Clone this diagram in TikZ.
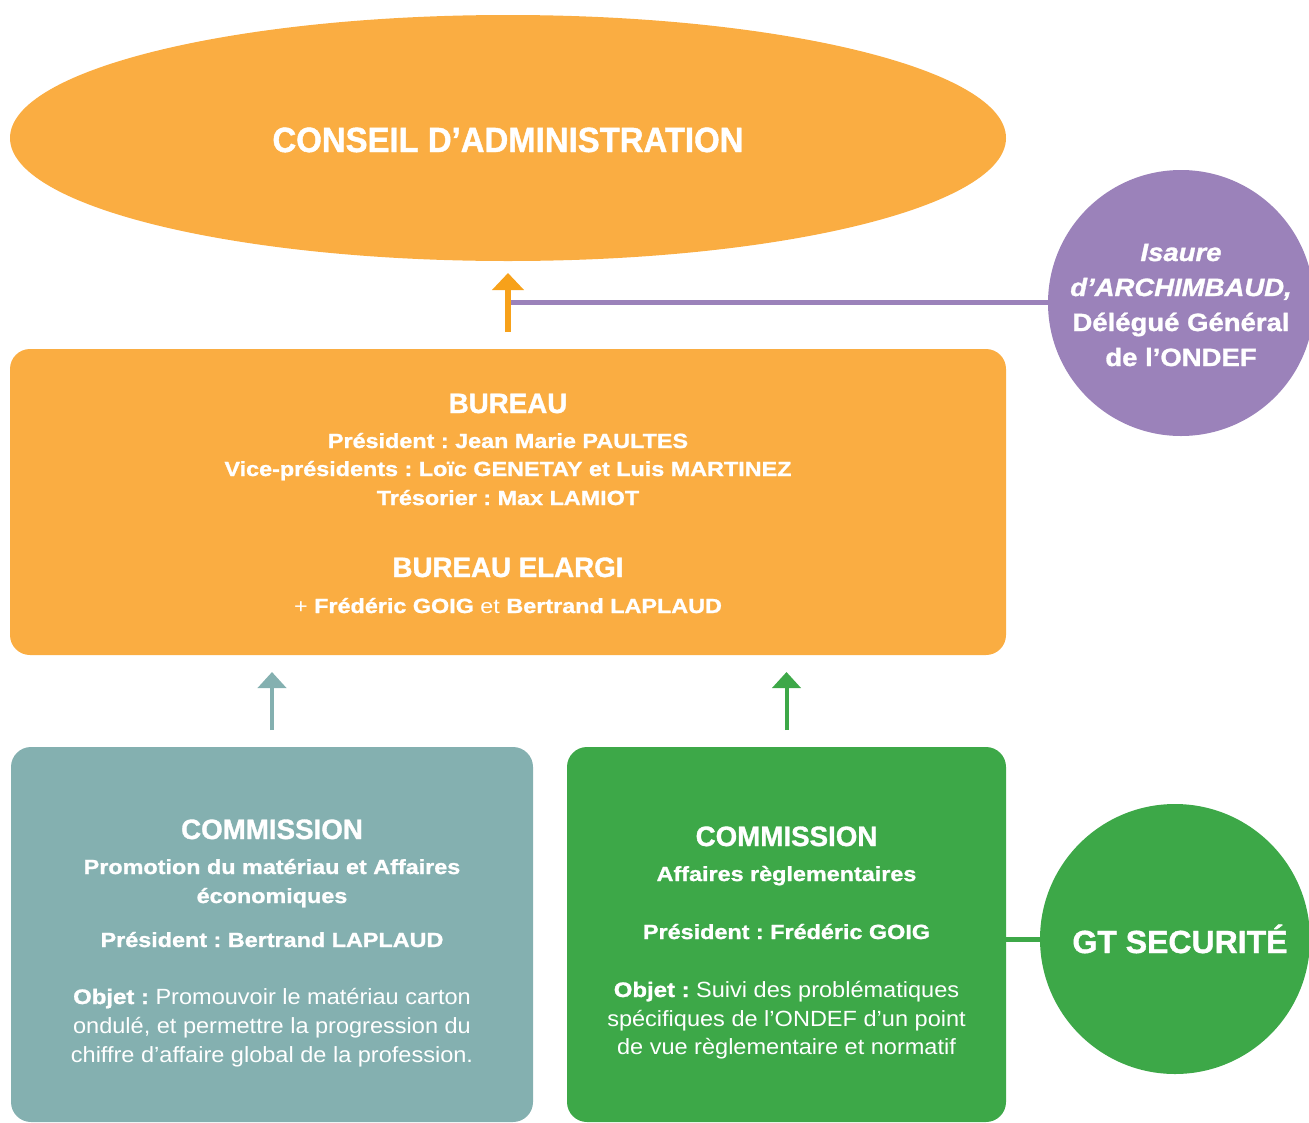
\documentclass[tikz,border=0pt]{standalone}
\usepackage{fontspec}
\setmainfont{Liberation Sans}
\newfontfamily\fCA{Liberation Sans}[FakeStretch=0.94, BoldFeatures={FakeBold=1.2}]
\newfontfamily\fTtl{Liberation Sans}[FakeStretch=0.99, BoldFeatures={FakeBold=1.2}]
\newfontfamily\fBl{Liberation Sans}[FakeStretch=1.14, BoldFeatures={FakeBold=1.2}]
\newfontfamily\fRg{Liberation Sans}[FakeStretch=1.07]
\newfontfamily\fIs{Liberation Sans}[FakeStretch=1.1, BoldFeatures={FakeBold=1.2}, BoldItalicFeatures={FakeBold=1.2}]
\newfontfamily\fGT{Liberation Sans}[FakeStretch=1.0, BoldFeatures={FakeBold=1.2}]
\usetikzlibrary{shapes.geometric,arrows.meta}
\definecolor{orA}{HTML}{FAAD42}
\definecolor{orB}{HTML}{F7A11A}
\definecolor{purp}{HTML}{9B82BA}
\definecolor{teal}{HTML}{84B0B0}
\definecolor{grn}{HTML}{3DA848}
\tikzset{
  box/.style={rounded corners=20pt, inner sep=0, outer sep=0},
  ttl/.style={anchor=base, text=white, font=\fTtl\bfseries\fontsize{28}{30}\selectfont},
  bl/.style={anchor=base, text=white, font=\fBl\bfseries\fontsize{20.5}{22}\selectfont},
  rg/.style={anchor=base, text=white, font=\fRg\fontsize{22}{24}\selectfont},
  isa/.style={anchor=base, text=white, font=\fIs\bfseries\fontsize{25}{28}\selectfont},
  circ/.style={circle, inner sep=0, outer sep=0},
}
\frenchspacing
\begin{document}
\frenchspacing
\begin{tikzpicture}[x=1pt,y=-1pt, every node/.style={inner sep=0, outer sep=0}]
\useasboundingbox (0,0) rectangle (1309,1122);
% Conseil
\node[ellipse, fill=orA, minimum width=996pt, minimum height=246pt] (ca) at (508,138) {};
\node[anchor=base, text=white, font=\fCA\bfseries\fontsize{35}{38}\selectfont] (catxt) at (508,152) {CONSEIL D’ADMINISTRATION};
% Bureau
\node[box, fill=orA, minimum width=996pt, minimum height=306pt] (bureau) at (508,502) {};
\node[ttl] (b1) at (508,413) {BUREAU};
\node[bl] (b2) at (508,448) {Président : Jean Marie PAULTES};
\node[bl] (b3) at (508,476) {Vice-présidents : Loïc GENETAY et Luis MARTINEZ};
\node[bl] (b4) at (508,505) {Trésorier : Max LAMIOT};
\node[ttl] (b5) at (508,577) {BUREAU ELARGI};
\node[bl] (b6) at (508,613) {{\mdseries +} Frédéric GOIG {\mdseries et} Bertrand LAPLAUD};
% Isaure
\node[circ, fill=purp, minimum size=266pt] (isa) at (1181,303) {};
\node[isa, font=\fIs\bfseries\itshape\fontsize{25}{28}\selectfont] (i1) at (1181,261) {Isaure};
\node[isa, font=\fIs\bfseries\itshape\fontsize{25}{28}\selectfont] (i2) at (1181,296) {d’ARCHIMBAUD,};
\node[isa] (i3) at (1181,331) {Délégué Général};
\node[isa] (i4) at (1181,366) {de l’ONDEF};
% connectors top
\coordinate (oa) at (508,332);
\coordinate (oj) at (510,302);
\draw[purp, line width=5pt] (oj) -- (isa.west |- oj);
\draw[orB, line width=6pt, -{Triangle[width=31pt,length=17pt]}] (oa) -- ([yshift=-12pt]ca.south);
% Commission 1
\node[box, fill=teal, minimum width=522pt, minimum height=375pt] (c1) at (272,934.5) {};
\node[ttl] (c1a) at (272,839) {COMMISSION};
\node[bl] (c1b) at (272,874) {Promotion du matériau et Affaires};
\node[bl] (c1c) at (272,903) {économiques};
\node[bl] (c1d) at (272,947) {Président : Bertrand LAPLAUD};
\node[rg] (c1e) at (272,1004) {{\fBl\bfseries\fontsize{21}{24}\selectfont Objet :} Promouvoir le matériau carton};
\node[rg] (c1f) at (272,1033) {ondulé, et permettre la progression du};
\node[rg] (c1g) at (272,1062) {chiffre d’affaire global de la profession.};
% Commission 2
\node[box, fill=grn, minimum width=439pt, minimum height=375pt] (c2) at (786.5,934.5) {};
\node[ttl] (c2a) at (786.5,846) {COMMISSION};
\node[bl] (c2b) at (786.5,881) {Affaires règlementaires};
\node[bl] (c2d) at (786.5,939) {Président : Frédéric GOIG};
\node[rg] (c2e) at (786.5,997) {{\fBl\bfseries\fontsize{21}{24}\selectfont Objet :} Suivi des problématiques};
\node[rg] (c2f) at (786.5,1026) {spécifiques de l’ONDEF d’un point};
\node[rg] (c2g) at (786.5,1054) {de vue règlementaire et normatif};
% GT
\node[circ, fill=grn, minimum size=270pt] (gt) at (1175,939) {};
\node[anchor=base, text=white, font=\fGT\bfseries\fontsize{32}{34}\selectfont] (gtt) at (1180,953) {GT SECURITÉ};
\draw[grn, line width=5pt] (c2.east |- gt.west) -- (gt.west);
% up arrows
\draw[teal, line width=4pt, -{Triangle[width=28pt,length=16pt]}] ([yshift=17pt]c1.north) -- ([yshift=-17pt]c1.north |- bureau.south);
\draw[grn, line width=4pt, -{Triangle[width=28pt,length=16pt]}] ([yshift=17pt]c2.north) -- ([yshift=-17pt]c2.north |- bureau.south);
\end{tikzpicture}
\end{document}
